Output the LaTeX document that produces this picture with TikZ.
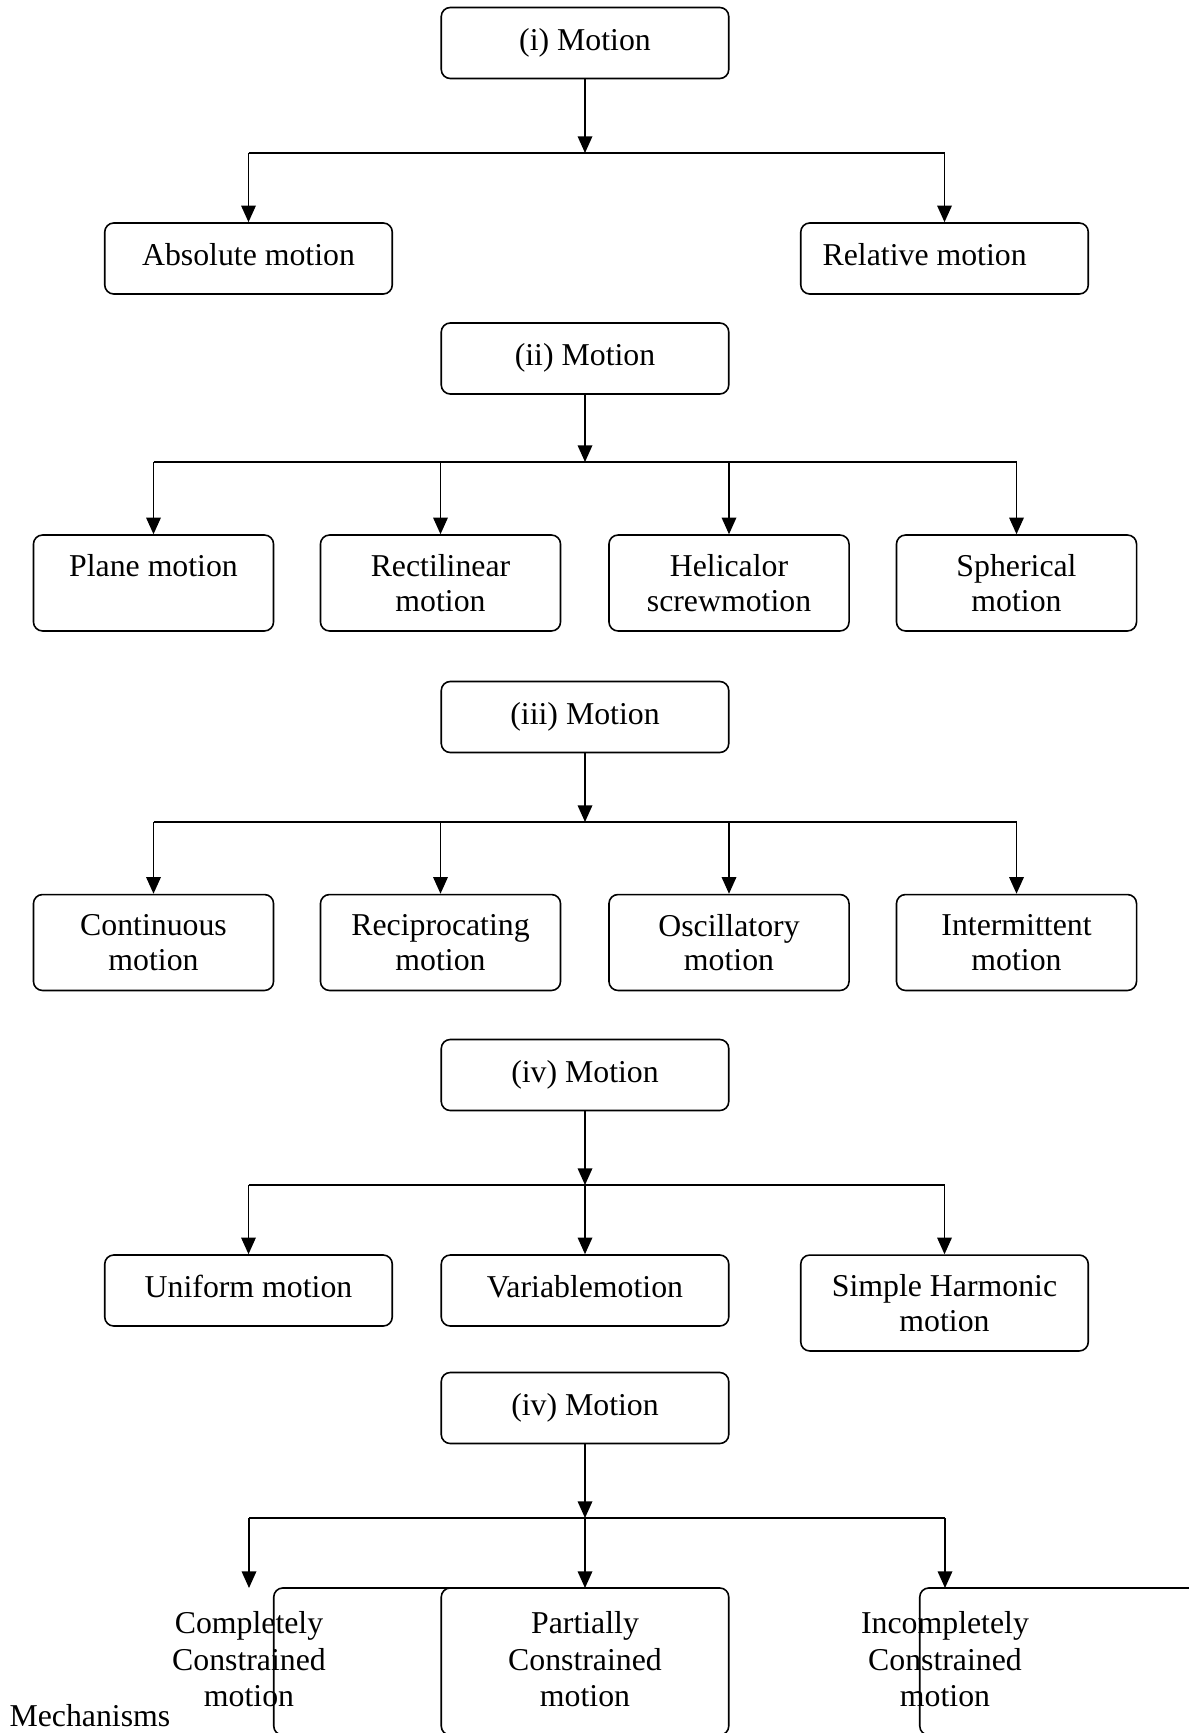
\documentclass[tikz,border=0pt]{standalone}
\usepackage{fontspec}
\setmainfont{Liberation Serif}
\usetikzlibrary{arrows.meta}
\tikzstyle{box} = [
    rectangle, rounded corners=3.4pt, draw,
    line width=0.6pt, align=center, inner sep=0pt,
    font=\fontsize{12}{13.1}\selectfont,
]
\tikzstyle{wide} = [
    box,
    minimum width=108.5pt,
    minimum height=26.8pt,
    text height=9pt, text depth=3.5pt,
]
\tikzstyle{tall} = [
    box,
    minimum width=108.5pt,
    minimum height=36.2pt,
    execute at begin node={\rule{0pt}{12.8pt}},
]
\tikzstyle{leaf} = [
    tall,
    minimum width=90.6pt,
]
\tikzstyle{frame} = [
    box,
    minimum width=108.5pt,
    minimum height=55.5pt,
]
\tikzstyle{lbl} = [
    align=center, inner xsep=0pt, inner ysep=8.7pt,
    font=\fontsize{12}{13.8}\selectfont,
]
\tikzstyle{link} = [line width=0.6pt]
\tikzstyle{arrow} = [link, -{Triangle[length=6.3pt,width=5.5pt]}]

\begin{document}
\begin{tikzpicture}[x=0.3774pt, y=-0.3774pt]
    \useasboundingbox (0,0) rectangle (1188,1733);

    % (i) absolute / relative
    \node (m1) at (585,43) [wide] {(i) Motion};
    \node (abs) at (248.5,258.5) [wide] {Absolute motion};
    \node (rel) at (944.5,258.5) [wide] {Relative motion\hspace{15pt}};
    \coordinate (b1) at (585,153);
    \draw [arrow] (m1) -- (b1);
    \draw [link] (abs.north |- b1) -- (rel.north |- b1);
    \foreach \n in {abs,rel} {
        \draw [arrow] (\n.north |- b1) -- (\n.north);
    }

    % (ii) path of motion
    \node (m2) at (585,358.5) [wide] {(ii) Motion};
    \node (plane) at (153.5,583) [leaf] {Plane motion\\\mbox{}};
    \node (rect) at (440.5,583) [leaf] {Rectilinear\\motion};
    \node (heli) at (729,583) [leaf] {Helicalor\\screwmotion};
    \node (sphe) at (1016.5,583) [leaf] {Spherical\\motion};
    \coordinate (b2) at (585,462);
    \draw [arrow] (m2) -- (b2);
    \draw [link] (plane.north |- b2) -- (sphe.north |- b2);
    \foreach \n in {plane,rect,heli,sphe} {
        \draw [arrow] (\n.north |- b2) -- (\n.north);
    }

    % (iii) nature of motion
    \node (m3) at (585,717) [wide] {(iii) Motion};
    \node (cont) at (153.5,942.5) [leaf] {Continuous\\motion};
    \node (reci) at (440.5,942.5) [leaf] {Reciprocating\\motion};
    \node (osci) at (729,942.5) [leaf] {Oscillatory\\motion};
    \node (inte) at (1016.5,942.5) [leaf] {Intermittent\\motion};
    \coordinate (b3) at (585,822);
    \draw [arrow] (m3) -- (b3);
    \draw [link] (cont.north |- b3) -- (inte.north |- b3);
    \foreach \n in {cont,reci,osci,inte} {
        \draw [arrow] (\n.north |- b3) -- (\n.north);
    }

    % (iv) velocity
    \node (m4) at (585,1075) [wide] {(iv) Motion};
    \node (unif) at (248.5,1290.5) [wide] {Uniform motion};
    \node (vari) at (585,1290.5) [wide] {Variablemotion};
    \node (shm) at (944.5,1303) [tall] {Simple Harmonic\\motion};
    \coordinate (b4) at (585,1185);
    \draw [arrow] (m4) -- (b4);
    \draw [link] (unif.north |- b4) -- (shm.north |- b4);
    \foreach \n in {unif,vari,shm} {
        \draw [arrow] (\n.north |- b4) -- (\n.north);
    }

    % (iv) constraint
    \node (m5) at (585,1408) [wide] {(iv) Motion};
    \node (f1) at (417.5,1661.5) [frame] {};
    \node (f2) at (585,1661.5) [frame, fill=white] {};
    \node (f3) at (1063.5,1661.5) [frame] {};
    \node (comp) at (249,1588) [lbl, anchor=north] {Completely\\Constrained\\motion};
    \node (part) at (585,1588) [lbl, anchor=north] {Partially\\Constrained\\motion};
    \node (inco) at (945,1588) [lbl, anchor=north] {Incompletely\\Constrained\\motion};
    \node (mech) at (9,1716) [lbl, inner ysep=0pt, anchor=west] {Mechanisms};
    \coordinate (b5) at (585,1518);
    \draw [arrow] (m5) -- (b5);
    \draw [link] (comp.north |- b5) -- (inco.north |- b5);
    \foreach \n in {comp,part,inco} {
        \draw [arrow] (\n.north |- b5) -- (\n.north);
    }
\end{tikzpicture}
\end{document}
